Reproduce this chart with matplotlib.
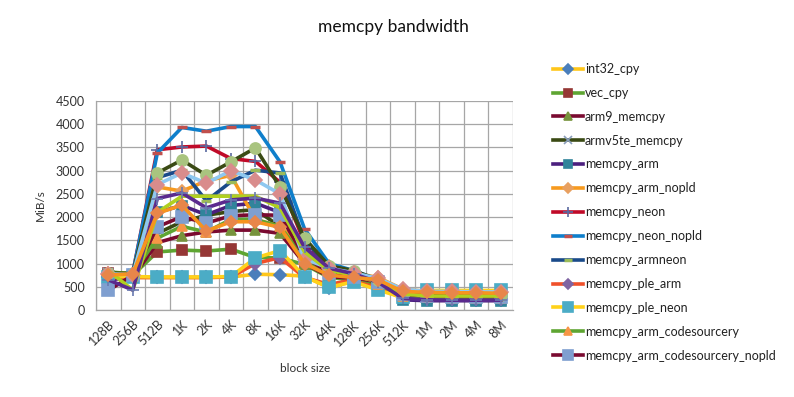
import matplotlib
matplotlib.use("Agg")
import matplotlib.pyplot as plt
import numpy as np

plt.rcParams['font.family'] = ['Lato', 'DejaVu Sans']

categories = ["128B", "256B", "512B", "1K", "2K", "4K", "8K", "16K", "32K",
              "64K", "128K", "256K", "512K", "1M", "2M", "4M", "8M"]

int32_cpy = [700, 700, 700, 700, 700, 710, 770, 760, 730, 480, 620, 480, 250, 230, 220, 220, 220]
vec_cpy = [800, 750, 1250, 1290, 1270, 1310, 1130, 1120, 980, 700, 650, 550, 350, 300, 300, 300, 300]
arm9_memcpy = [750, 700, 1450, 1600, 1680, 1720, 1720, 1650, 1000, 720, 680, 520, 260, 230, 220, 220, 220]
armv5te_memcpy = [800, 780, 1650, 1900, 2040, 2120, 2160, 1800, 1200, 850, 750, 600, 300, 280, 270, 270, 270]
memcpy_arm = [650, 700, 2100, 2250, 2050, 2250, 2300, 2100, 1300, 850, 760, 620, 220, 200, 200, 200, 200]
memcpy_arm_nopld = [800, 800, 2650, 2560, 2780, 2900, 1950, 1800, 1300, 950, 800, 700, 450, 400, 380, 380, 370]
memcpy_neon = [700, 800, 3450, 3510, 3530, 3260, 3200, 2750, 1450, 900, 780, 620, 280, 250, 240, 240, 240]
memcpy_neon_nopld = [750, 800, 3380, 3930, 3850, 3950, 3950, 3190, 1750, 1000, 850, 650, 400, 350, 350, 350, 340]
memcpy_armneon = [700, 780, 2850, 3010, 2350, 2760, 3010, 2950, 1500, 950, 800, 650, 350, 300, 300, 300, 300]
memcpy_ple_arm = [700, 700, 700, 700, 700, 710, 1000, 1130, 700, 550, 650, 480, 300, 250, 240, 240, 240]
memcpy_ple_neon = [720, 720, 710, 710, 710, 720, 1120, 1280, 720, 490, 610, 430, 270, 420, 420, 420, 420]
memcpy_arm_codesourcery = [820, 780, 1550, 1800, 1680, 1950, 1950, 1800, 1100, 780, 700, 560, 300, 270, 260, 260, 260]
memcpy_arm_codesourcery_nopld = [420, 750, 1790, 2010, 1870, 2030, 2050, 2040, 1150, 800, 700, 600, 350, 300, 290, 290, 290]
# further series whose legend entries are cut off in the reference
extra_1 = [800, 780, 2950, 3230, 2900, 3190, 3490, 2650, 1550, 950, 850, 650, 380, 330, 320, 320, 320]
extra_2 = [780, 760, 2700, 2950, 2730, 3000, 2800, 2500, 1100, 900, 800, 680, 450, 400, 400, 390, 390]
extra_3 = [850, 430, 2100, 2450, 2450, 2450, 2450, 2200, 1250, 850, 750, 600, 350, 300, 300, 300, 300]
extra_4 = [650, 430, 2400, 2520, 2200, 2370, 2410, 2300, 1350, 900, 780, 600, 250, 220, 210, 210, 210]
extra_5 = [750, 780, 2080, 2260, 1700, 1900, 1900, 1780, 1000, 750, 700, 650, 400, 380, 370, 370, 360]

series = [
    ("int32_cpy", int32_cpy, "#FFC61A", "D", "#4A7EBB", 6),
    ("vec_cpy", vec_cpy, "#5EA532", "s", "#953735", 7),
    ("arm9_memcpy", arm9_memcpy, "#7A0A30", "^", "#77933C", 7),
    ("armv5te_memcpy", armv5te_memcpy, "#3A4A14", "x", "#8A9EBB", 7),
    ("memcpy_arm", memcpy_arm, "#4B1F7E", "s", "#31849B", 7),
    ("memcpy_arm_nopld", memcpy_arm_nopld, "#F79A1E", "D", "#E8A060", 6),
    ("memcpy_neon", memcpy_neon, "#C00A28", "+", "#5A6AA0", 9),
    ("memcpy_neon_nopld", memcpy_neon_nopld, "#0F7FCB", "_", "#C0504D", 7),
    ("memcpy_armneon", memcpy_armneon, "#1A4A8A", "_", "#9BBB59", 7),
    ("memcpy_ple_arm", memcpy_ple_arm, "#F0502A", "D", "#7F64A2", 6),
    ("memcpy_ple_neon", memcpy_ple_neon, "#FFD21A", "s", "#4BACC6", 8),
    ("memcpy_arm_codesourcery", memcpy_arm_codesourcery, "#5EA532", "^", "#F79646", 7),
    ("memcpy_arm_codesourcery_nopld", memcpy_arm_codesourcery_nopld, "#7A0A30", "s", "#7F9FD0", 8),
    ("_extra_1", extra_1, "#3A4A14", "o", "#A9C47F", 8),
    ("_extra_2", extra_2, "#8EC8F0", "D", "#D98C8C", 7),
    ("_extra_3", extra_3, "#B0D020", "None", "#B0D020", 6),
    ("_extra_4", extra_4, "#5A2A8E", "+", "#6A7AB0", 9),
    ("_extra_5", extra_5, "#F7941E", "D", "#E8864A", 6),
]

fig = plt.figure(figsize=(7.94, 3.97), dpi=100)
ax = fig.add_axes([96/794, 1-310/397, (513-96)/794, (310-101)/397])

x = np.arange(len(categories))
for name, vals, lc, mk, mc, ms in series:
    ax.plot(x, vals, color=lc, linewidth=2.6, marker=mk, markersize=ms,
            markerfacecolor=mc, markeredgecolor=mc,
            markeredgewidth=(2.5 if mk == "_" else 1.2), label=name)

ax.set_xlim(-0.5, len(categories) - 0.5)
ax.set_ylim(0, 4500)
ax.set_yticks(np.arange(0, 4501, 500))
ax.set_xticks(x)
ax.set_xticklabels(categories, rotation=45, ha="right", va="top",
                   rotation_mode="anchor", fontsize=9, color="#333333")
ax.set_xticks(np.arange(-0.5, len(categories), 1), minor=True)
ax.tick_params(axis="x", which="major", length=0, pad=6)
ax.tick_params(axis="x", which="minor", length=0)
ax.tick_params(axis="y", length=0, labelsize=9, labelcolor="#333333", pad=8)
ax.grid(axis="x", which="minor", color="#A6A6A6", linewidth=0.9)
ax.grid(axis="y", which="major", color="#A6A6A6", linewidth=0.9)
ax.set_axisbelow(True)
for s in ["top", "right"]:
    ax.spines[s].set_visible(False)
for s in ["left", "bottom"]:
    ax.spines[s].set_color("#A6A6A6")
    ax.spines[s].set_linewidth(0.9)

fig.text(0.495, 1-27/397, "memcpy bandwidth", ha="center", va="center", fontsize=12.5, color="#111111")
fig.text(40/794, 1-205/397, "MiB/s", ha="center", va="center", rotation=90, fontsize=8.5, color="#333333")
fig.text(305/794, 1-369/397, "block size", ha="center", va="center", fontsize=8.5, color="#333333")

handles, labels = ax.get_legend_handles_labels()
leg = fig.legend(handles, labels, loc="upper left", bbox_to_anchor=(553/794, 1-63/397),
                 frameon=False, fontsize=9, handlelength=2.4, handletextpad=0.15,
                 labelspacing=0.95, borderpad=0, borderaxespad=0, markerscale=0.85)
for t in leg.get_texts():
    t.set_color("#222222")

fig.savefig("out.png", dpi=100, facecolor="white")
